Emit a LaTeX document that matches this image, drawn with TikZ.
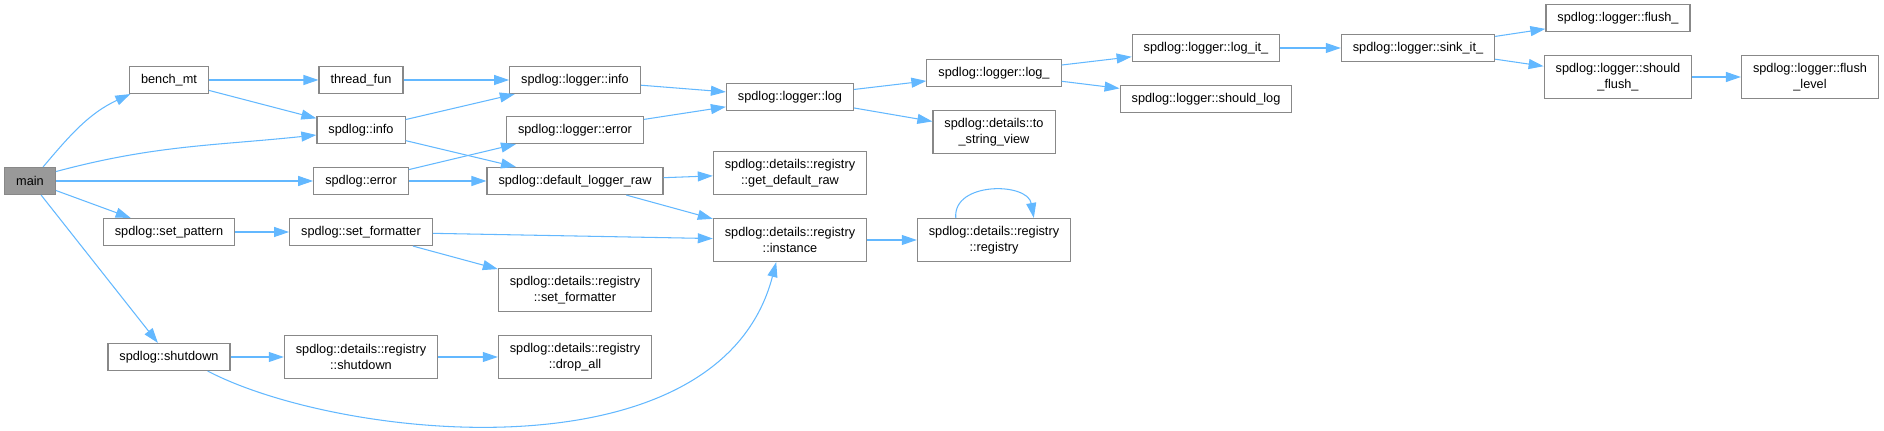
\documentclass[tikz,border=0pt]{standalone}
\usepackage{fontspec}
\setmainfont{Liberation Sans}
\usetikzlibrary{arrows.meta}
\definecolor{edgeblue}{HTML}{63B8FF}
\definecolor{boxgray}{HTML}{888888}
\definecolor{rootgray}{HTML}{999999}
\tikzset{
  fn/.style={draw=boxgray, line width=0.65pt, fill=white, align=center, inner xsep=0.23cm, inner ysep=0pt, minimum height=0.54cm, font=\fontsize{7.25}{9.1}\selectfont},
  fntwo/.style={fn, minimum height=0.86cm},
  root/.style={fn, fill=rootgray},
  flow/.style={-{Triangle[length=3mm, width=2mm]}, draw=edgeblue, line width=0.6pt},
}
\begin{document}
\begin{tikzpicture}[x=0.02cm, y=-0.02cm]
    \useasboundingbox (0,0) rectangle (1884,431);
    \node[root] (main) at (30,181) {main};
    \node[fn] (benchmt) at (169,80) {bench\_mt};
    \node[fn] (setpattern) at (169,232) {spdlog::set\_pattern};
    \node[fn] (shutdown) at (169,357) {spdlog::shutdown};
    \node[fn] (threadfun) at (361,80) {thread\_fun};
    \node[fn] (info) at (361,130) {spdlog::info};
    \node[fn] (error) at (361,181) {spdlog::error};
    \node[fn] (setformatter) at (361,232) {spdlog::set\_formatter};
    \node[fntwo] (regshutdown) at (361,357) {spdlog::details::registry\\::shutdown};
    \node[fn] (loginfo) at (575,80) {spdlog::logger::info};
    \node[fn] (logerror) at (575,130) {spdlog::logger::error};
    \node[fn] (defraw) at (575,181) {spdlog::default\_logger\_raw};
    \node[fntwo] (regsetfmt) at (575,290) {spdlog::details::registry\\::set\_formatter};
    \node[fntwo] (dropall) at (575,357) {spdlog::details::registry\\::drop\_all};
    \node[fn] (log) at (790,97) {spdlog::logger::log};
    \node[fntwo] (getdefraw) at (790,173) {spdlog::details::registry\\::get\_default\_raw};
    \node[fntwo] (instance) at (790,240) {spdlog::details::registry\\::instance};
    \node[fn] (logu) at (994,73) {spdlog::logger::log\_};
    \node[fntwo] (tostrview) at (994,132) {spdlog::details::to\\\_string\_view};
    \node[fntwo] (regctor) at (994,240) {spdlog::details::registry\\::registry};
    \node[fn] (logit) at (1206,48) {spdlog::logger::log\_it\_};
    \node[fn] (shouldlog) at (1206,99) {spdlog::logger::should\_log};
    \node[fn] (sinkit) at (1418,48) {spdlog::logger::sink\_it\_};
    \node[fn] (flush) at (1618,18) {spdlog::logger::flush\_};
    \node[fntwo] (shouldflush) at (1618,77) {spdlog::logger::should\\\_flush\_};
    \node[fntwo] (flushlevel) at (1810,77) {spdlog::logger::flush\\\_level};
    \draw[flow] (main.47) to[out=50, in=205] (benchmt.200);
    \draw[flow] (main.20) to[out=15, in=186] (info.west |- 0,135);
    \draw[flow] (main) -- (error);
    \draw[flow] (main) -- (setpattern);
    \draw[flow] (main) -- (shutdown);
    \draw[flow] (benchmt) -- (threadfun);
    \draw[flow] (benchmt) -- (info);
    \draw[flow] (threadfun) -- (loginfo);
    \draw[flow] (info) -- (loginfo);
    \draw[flow] (info) -- (defraw);
    \draw[flow] (error) -- (logerror);
    \draw[flow] (error) -- (defraw);
    \draw[flow] (setpattern) -- (setformatter);
    \draw[flow] (setformatter) -- (instance);
    \draw[flow] (setformatter) -- (regsetfmt);
    \draw[flow] (shutdown) -- (regshutdown);
    \draw[flow] (regshutdown) -- (dropall);
    \draw[flow] (shutdown.-20) .. controls +(132,69) and +(-57,219) .. (instance.-122);
    \draw[flow] (loginfo) -- (log);
    \draw[flow] (logerror) -- (log);
    \draw[flow] (defraw) -- (getdefraw);
    \draw[flow] (defraw) -- (instance);
    \draw[flow] (instance) -- (regctor);
    \draw[flow] (regctor.150) to[out=95, in=100, looseness=1.2] (regctor.29);
    \draw[flow] (log) -- (logu);
    \draw[flow] (log) -- (tostrview);
    \draw[flow] (logu) -- (logit);
    \draw[flow] (logu) -- (shouldlog);
    \draw[flow] (logit) -- (sinkit);
    \draw[flow] (sinkit) -- (flush);
    \draw[flow] (sinkit) -- (shouldflush);
    \draw[flow] (shouldflush) -- (flushlevel);
  \end{tikzpicture}
\end{document}
